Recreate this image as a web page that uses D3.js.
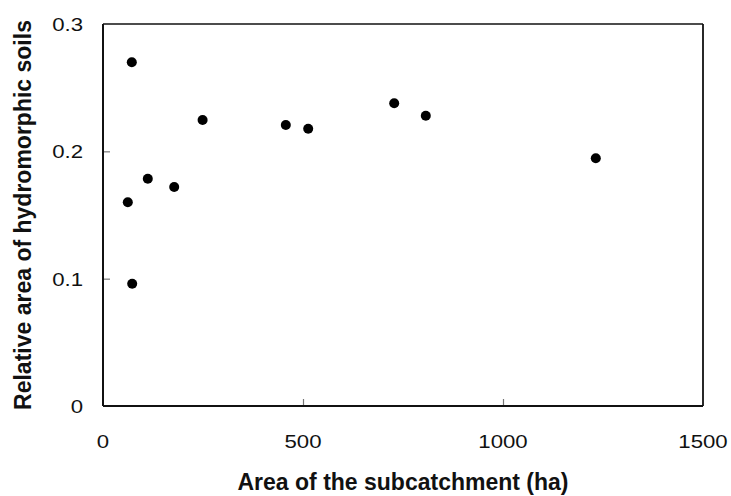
<!DOCTYPE html>
<html>
<head>
<meta charset="utf-8">
<script src="https://cdn.jsdelivr.net/npm/d3@7"></script>
<style>
  body { margin: 0; background: #fff; }
  svg { display: block; }
</style>
</head>
<body>
<div id="chart"><svg></svg></div>
<script>
// Data
var areaHa   = [62, 72, 73, 112, 178, 249, 457, 513, 728, 807, 1232];
var relHydro = [0.160, 0.270, 0.096, 0.1785, 0.172, 0.2246, 0.2207, 0.2178, 0.2377, 0.228, 0.1945];

var xTicks = [0, 500, 1000, 1500];
var yTicks = [0, 0.1, 0.2, 0.3];
var xTitle = "Area of the subcatchment (ha)";
var yTitle = "Relative area of hydromorphic soils";

var width = 731, height = 496;
var plotLeft = 103, plotRight = 703, plotTop = 24, plotBottom = 406;

var svg = d3.select("#chart").select("svg")
    .attr("width", width)
    .attr("height", height);

var xScale = d3.scaleLinear().domain([0, 1500]).range([plotLeft, plotRight]);
var yScale = d3.scaleLinear().domain([0, 0.3]).range([plotBottom, plotTop]);

var font = "'Liberation Sans', Arial, sans-serif";

// inner ticks (grey, short)
var xAxis = d3.axisTop(xScale).tickValues([500, 1000]).tickSize(7).tickFormat("");
var yAxis = d3.axisRight(yScale).tickValues([0.1, 0.2]).tickSize(7).tickFormat("");

svg.append("g")
    .attr("transform", "translate(0," + plotBottom + ")")
    .call(xAxis)
    .call(function(g) { g.select(".domain").remove(); })
    .selectAll("line").attr("stroke", "#777").attr("stroke-width", 1.2);

svg.append("g")
    .attr("transform", "translate(" + plotLeft + ",0)")
    .call(yAxis)
    .call(function(g) { g.select(".domain").remove(); })
    .selectAll("line").attr("stroke", "#777").attr("stroke-width", 1.2);

// frame
svg.append("line").attr("x1", plotLeft).attr("x2", plotRight)
    .attr("y1", plotTop).attr("y2", plotTop)
    .attr("stroke", "#111").attr("stroke-width", 1.5);
svg.append("line").attr("x1", plotRight).attr("x2", plotRight)
    .attr("y1", plotTop).attr("y2", plotBottom)
    .attr("stroke", "#111").attr("stroke-width", 1.8);
svg.append("line").attr("x1", plotLeft).attr("x2", plotRight)
    .attr("y1", plotBottom).attr("y2", plotBottom)
    .attr("stroke", "#111").attr("stroke-width", 2);
svg.append("line").attr("x1", plotLeft).attr("x2", plotLeft)
    .attr("y1", plotTop).attr("y2", plotBottom)
    .attr("stroke", "#111").attr("stroke-width", 2);

// tick labels (slightly wide face, as in the original)
svg.append("g").selectAll("text")
    .data(xTicks)
    .enter().append("text")
    .attr("transform", function(d) {
        return "translate(" + xScale(d) + "," + (plotBottom + 42) + ") scale(1.2,1)";
    })
    .attr("text-anchor", "middle")
    .style("font-family", font)
    .style("font-size", "18.5px")
    .style("fill", "#111")
    .text(function(d) { return d; });

svg.append("g").selectAll("text")
    .data(yTicks)
    .enter().append("text")
    .attr("transform", function(d) {
        return "translate(" + (plotLeft - 20) + "," + (yScale(d) + 7) + ") scale(1.2,1)";
    })
    .attr("text-anchor", "end")
    .style("font-family", font)
    .style("font-size", "18.5px")
    .style("fill", "#111")
    .text(function(d) { return d; });

// axis titles
svg.append("text")
    .attr("x", (plotLeft + plotRight) / 2)
    .attr("y", 490)
    .attr("text-anchor", "middle")
    .style("font-family", font)
    .style("font-weight", "bold")
    .style("font-size", "23px")
    .style("fill", "#111")
    .text(xTitle);

svg.append("text")
    .attr("transform", "translate(31," + ((plotTop + plotBottom) / 2) + ") rotate(-90)")
    .attr("text-anchor", "middle")
    .style("font-family", font)
    .style("font-weight", "bold")
    .style("font-size", "23px")
    .style("fill", "#111")
    .text(yTitle);

// points
svg.append("g").selectAll("circle")
    .data(areaHa)
    .enter().append("circle")
    .attr("cx", function(d) { return xScale(d); })
    .attr("cy", function(d, i) { return yScale(relHydro[i]); })
    .attr("r", 5)
    .style("fill", "#000");
</script>
</body>
</html>
